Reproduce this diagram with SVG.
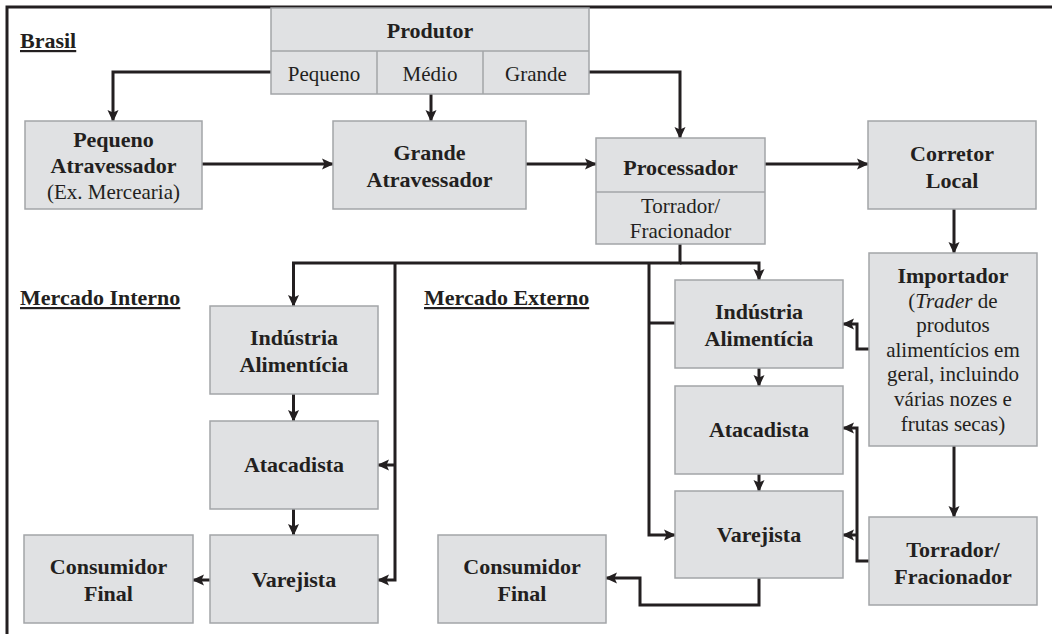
<svg xmlns="http://www.w3.org/2000/svg" width="1052" height="634" viewBox="0 0 1052 634">
<style>
.box{fill:#e0e1e3;stroke:#a3a5a8;stroke-width:1.5}
.div{stroke:#a3a5a8;stroke-width:1.5;fill:none}
.t{font-family:"Liberation Serif","Times New Roman",serif;fill:#231f20;text-anchor:middle}
.b{font-weight:bold;font-size:22px}
.r{font-size:21px}
.lbl{font-family:"Liberation Serif","Times New Roman",serif;fill:#231f20;font-weight:bold;font-size:22px;text-decoration:underline}
.c{fill:none;stroke:#231f20;stroke-width:3}
.a{marker-end:url(#ah)}
</style>
<defs>
<marker id="ah" markerUnits="userSpaceOnUse" markerWidth="12" markerHeight="12" refX="11" refY="6" orient="auto" viewBox="0 0 12 12">
<path d="M0,0.5 L12,6 L0,11.5 L2.5,6 Z" fill="#231f20"/>
</marker>
</defs>
<rect width="1052" height="634" fill="#ffffff"/>
<g id="frame">
<path d="M7,634 V7 H1052" fill="none" stroke="#231f20" stroke-width="3"/>
</g>
<g id="labels">
<text class="lbl" x="20" y="48">Brasil</text>
<text class="lbl" x="20" y="305">Mercado Interno</text>
<text class="lbl" x="424" y="305">Mercado Externo</text>
</g>
<g id="connectors">
<path class="c a" d="M271,72 H113 V121"/>
<path class="c a" d="M431,94 V121"/>
<path class="c a" d="M589,72 H680 V138"/>
<path class="c a" d="M202,164 H333"/>
<path class="c a" d="M526,164 H596"/>
<path class="c a" d="M765,164 H868"/>
<path class="c a" d="M954,209 V253"/>
<path class="c a" d="M680,244 V263 H293.5 V306"/>
<path class="c a" d="M680,263 H759 V280"/>
<path class="c a" d="M395,263 V580 H378"/>
<path class="c a" d="M395,465 H378"/>
<path class="c a" d="M293.5,394 V421"/>
<path class="c a" d="M293.5,509 V535"/>
<path class="c a" d="M210,580 H193"/>
<path class="c a" d="M649,263 V535 H675"/>
<path class="c" d="M649,323 H675"/>
<path class="c a" d="M759,368 V386"/>
<path class="c a" d="M759,474 V491"/>
<path class="c a" d="M759,578 V605 H640 V578 H606"/>
<path class="c a" d="M869,349 H857 V324 H843"/>
<path class="c a" d="M954,446 V517"/>
<path class="c a" d="M869,561 H857 V428 H843"/>
<path class="c a" d="M857,535 H843"/>
</g>
<g id="produtor">
<rect class="box" x="271" y="8" width="318" height="86"/>
<path class="div" d="M271,51 H589 M377,51 V94 M483,51 V94"/>
<text class="t b" x="430" y="38">Produtor</text>
<text class="t r" x="324" y="81">Pequeno</text>
<text class="t r" x="430" y="81">Médio</text>
<text class="t r" x="536" y="81">Grande</text>
</g>
<g id="pequeno-atravessador">
<rect class="box" x="25" y="121" width="177" height="88"/>
<text class="t b" x="113.5" y="147">Pequeno</text>
<text class="t b" x="113.5" y="173">Atravessador</text>
<text class="t r" x="113.5" y="199">(Ex. Mercearia)</text>
</g>
<g id="grande-atravessador">
<rect class="box" x="333" y="121" width="193" height="88"/>
<text class="t b" x="429.5" y="160">Grande</text>
<text class="t b" x="429.5" y="187">Atravessador</text>
</g>
<g id="processador">
<rect class="box" x="596" y="138" width="169" height="106"/>
<path class="div" d="M596,192 H765"/>
<text class="t b" x="680.5" y="175">Processador</text>
<text class="t r" x="680.5" y="213">Torrador/</text>
<text class="t r" x="680.5" y="238">Fracionador</text>
</g>
<g id="corretor-local">
<rect class="box" x="868" y="121" width="168" height="88"/>
<text class="t b" x="952" y="161">Corretor</text>
<text class="t b" x="952" y="188">Local</text>
</g>
<g id="importador">
<rect class="box" x="869" y="253" width="168" height="193"/>
<text class="t b" x="953" y="283">Importador</text>
<text class="t r" x="953" y="308">(<tspan font-style="italic">Trader</tspan> de</text>
<text class="t r" x="953" y="332">produtos</text>
<text class="t r" x="953" y="357">alimentícios em</text>
<text class="t r" x="953" y="381">geral, incluindo</text>
<text class="t r" x="953" y="406">várias nozes e</text>
<text class="t r" x="953" y="431">frutas secas)</text>
</g>
<g id="torrador-fracionador">
<rect class="box" x="869" y="517" width="168" height="88"/>
<text class="t b" x="953" y="557">Torrador/</text>
<text class="t b" x="953" y="584">Fracionador</text>
</g>
<g id="industria-interno">
<rect class="box" x="210" y="306" width="168" height="88"/>
<text class="t b" x="294" y="345">Indústria</text>
<text class="t b" x="294" y="372">Alimentícia</text>
</g>
<g id="atacadista-interno">
<rect class="box" x="210" y="421" width="168" height="88"/>
<text class="t b" x="294" y="472">Atacadista</text>
</g>
<g id="varejista-interno">
<rect class="box" x="210" y="535" width="168" height="88"/>
<text class="t b" x="294" y="587">Varejista</text>
</g>
<g id="consumidor-interno">
<rect class="box" x="24" y="535" width="169" height="88"/>
<text class="t b" x="108.5" y="574">Consumidor</text>
<text class="t b" x="108.5" y="601">Final</text>
</g>
<g id="industria-externo">
<rect class="box" x="675" y="280" width="168" height="88"/>
<text class="t b" x="759" y="319">Indústria</text>
<text class="t b" x="759" y="346">Alimentícia</text>
</g>
<g id="atacadista-externo">
<rect class="box" x="675" y="386" width="168" height="88"/>
<text class="t b" x="759" y="437">Atacadista</text>
</g>
<g id="varejista-externo">
<rect class="box" x="675" y="491" width="168" height="87"/>
<text class="t b" x="759" y="542">Varejista</text>
</g>
<g id="consumidor-externo">
<rect class="box" x="438" y="535" width="168" height="88"/>
<text class="t b" x="522" y="574">Consumidor</text>
<text class="t b" x="522" y="601">Final</text>
</g>
</svg>
